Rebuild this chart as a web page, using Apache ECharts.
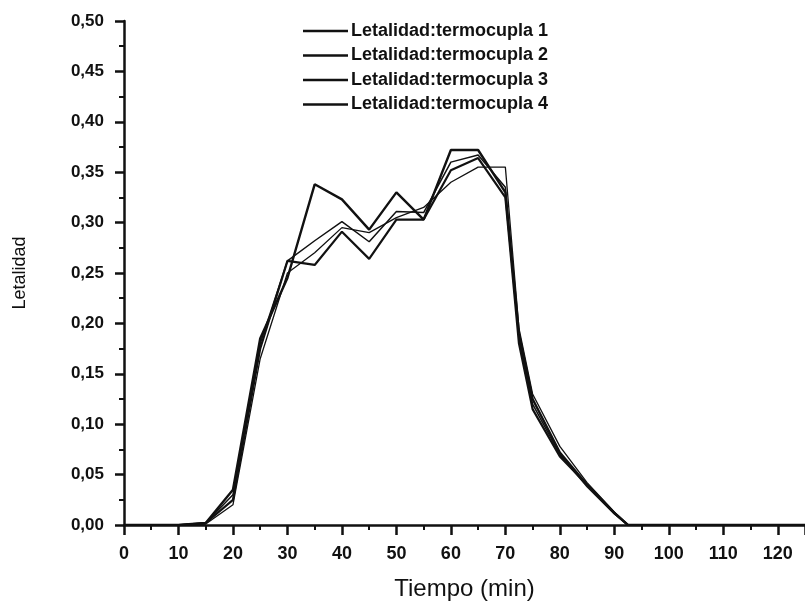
<!DOCTYPE html>
<html>
<head>
<meta charset="utf-8">
<script src="https://cdn.jsdelivr.net/npm/echarts@6/dist/echarts.min.js"></script>
<style>
html,body{margin:0;padding:0;background:#fff;}
#chart{width:805px;height:602px;}
</style>
</head>
<body>
<div id="chart"></div>
<script>
// tiempo (min)
const tiempo=[0,5,10,15,20,25,30,35,40,45,50,55,60,65,70,72.5,75,80,85,90,92.5,95,100,110,120,125];
const termo1=[0,0,0,0.002,0.035,0.185,0.245,0.338,0.323,0.293,0.330,0.303,0.372,0.372,0.330,0.190,0.125,0.072,0.040,0.012,0,0,0,0,0,0];
const termo2=[0,0,0,0.002,0.030,0.180,0.262,0.282,0.301,0.281,0.311,0.310,0.360,0.367,0.335,0.185,0.120,0.070,0.038,0.011,0,0,0,0,0,0];
const termo3=[0,0,0,0.002,0.025,0.175,0.262,0.258,0.291,0.264,0.303,0.303,0.352,0.364,0.325,0.180,0.115,0.068,0.040,0.012,0,0,0,0,0,0];
const termo4=[0,0,0,0.001,0.020,0.165,0.250,0.270,0.295,0.290,0.305,0.315,0.340,0.355,0.355,0.195,0.130,0.078,0.042,0.013,0,0,0,0,0,0];
const nombres=['Letalidad:termocupla 1','Letalidad:termocupla 2','Letalidad:termocupla 3','Letalidad:termocupla 4'];
const anchos=[2.4,1.5,2.2,1.3];

const chart=echarts.init(document.getElementById('chart'));
const font='"Liberation Sans", Arial, sans-serif';

const series=[termo1,termo2,termo3,termo4].map((vals,i)=>({
    name:nombres[i],
    type:'line',
    symbol:'none',
    animation:false,
    lineStyle:{color:'#111',width:anchos[i]},
    data:tiempo.map((t,j)=>[t,vals[j]])
}));

chart.setOption({
    backgroundColor:'#fff',
    grid:{left:124,top:21,right:0,bottom:77,outerBoundsMode:'none'},
    legend:{
        orient:'vertical',
        left:298,
        top:16,
        icon:'rect',
        itemWidth:45,
        itemHeight:2.5,
        itemGap:4.5,
        itemStyle:{color:'#111'},
        textStyle:{fontFamily:font,fontSize:18,fontWeight:'bold',color:'#111',lineHeight:20,padding:[0,0,0,-2]},
        data:nombres
    },
    xAxis:{
        type:'value',
        min:0,max:125,interval:10,
        name:'Tiempo (min)',
        nameLocation:'middle',
        nameGap:52,
        nameMoveOverlap:false,
        nameTextStyle:{fontFamily:font,fontSize:24,color:'#111'},
        axisLine:{lineStyle:{color:'#111',width:2.5}},
        axisTick:{show:true,length:10,lineStyle:{color:'#111',width:2.5}},
        minorTick:{show:true,splitNumber:2,length:5,lineStyle:{color:'#111',width:2}},
        axisLabel:{fontFamily:font,fontSize:18,fontWeight:'bold',color:'#111',margin:20,showMaxLabel:false},
        splitLine:{show:false}
    },
    yAxis:{
        type:'value',
        min:0,max:0.5,interval:0.05,
        name:'Letalidad',
        nameLocation:'middle',
        nameGap:95,
        nameMoveOverlap:false,
        nameTextStyle:{fontFamily:font,fontSize:18,color:'#111'},
        axisLine:{show:true,lineStyle:{color:'#111',width:2.5}},
        axisTick:{show:true,length:9,lineStyle:{color:'#111',width:2.5}},
        minorTick:{show:true,splitNumber:2,length:5,lineStyle:{color:'#111',width:2}},
        axisLabel:{fontFamily:font,fontSize:17,fontWeight:'bold',color:'#111',margin:20,
            formatter:v=>v.toFixed(2).replace('.',',')},
        splitLine:{show:false}
    },
    series:series
});
</script>
</body>
</html>
